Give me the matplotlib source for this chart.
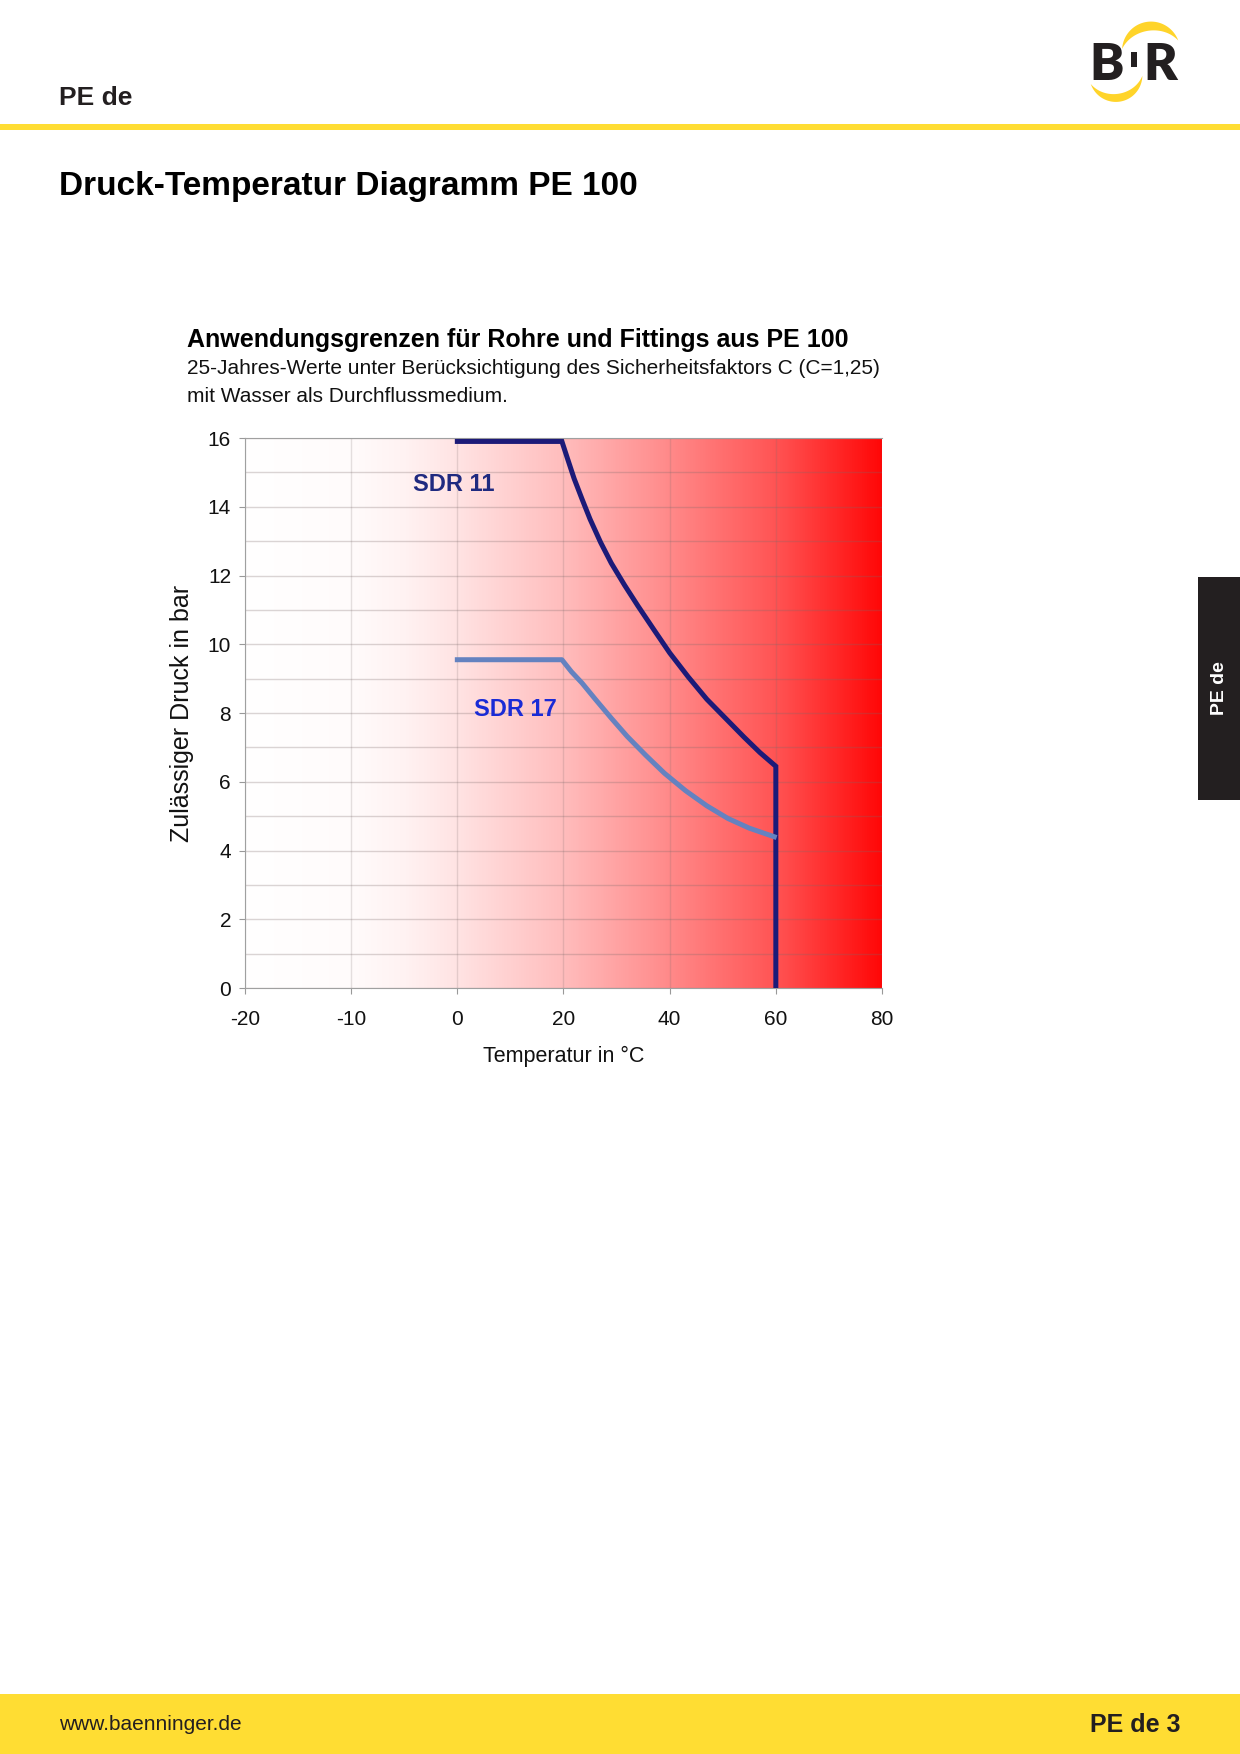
import numpy as np
import matplotlib
matplotlib.use("Agg")
import matplotlib.pyplot as plt
from matplotlib.colors import LinearSegmentedColormap
from matplotlib.patches import Rectangle, Polygon

plt.rcParams['font.family'] = ['Liberation Sans', 'DejaVu Sans']

# values
temp_ticks = [-20, -10, 0, 20, 40, 60, 80]
pressure_ticks = [0, 2, 4, 6, 8, 10, 12, 14, 16]

sdr11_temp = [0, 19.7, 20.8, 22, 23.5, 25, 27, 29, 31.5, 34, 37, 40, 43.5, 47, 50.5, 54, 57, 60, 60]
sdr11_bar = [15.9, 15.9, 15.38, 14.82, 14.22, 13.64, 12.96, 12.36, 11.72, 11.12, 10.43, 9.75, 9.05,
             8.4, 7.85, 7.3, 6.85, 6.45, 0]

sdr17_temp = [0, 19.7, 21.5, 23.5, 26, 29, 32, 35.5, 39, 43, 47, 51, 55, 59.7]
sdr17_bar = [9.55, 9.55, 9.2, 8.87, 8.4, 7.85, 7.32, 6.77, 6.25, 5.74, 5.3, 4.93, 4.65, 4.4]

W, H = 1240, 1754
YELLOW = '#FFDD33'
DARK = '#231f20'


def fx(px):
    return px / W


def fy(py):
    return 1 - py / H


# x axis: steps of 10 below zero, steps of 20 above
def fwd(t):
    t = np.asarray(t, dtype=float)
    return np.where(t < 0, t / 10, t / 20)


def inv(p):
    p = np.asarray(p, dtype=float)
    return np.where(p < 0, p * 10, p * 20)


def crescent(cx, cy, r, a0, a1, tmax, n=60):
    th = np.linspace(np.radians(a0), np.radians(a1), n)
    t = tmax * np.sin(np.pi * (th - th[0]) / (th[-1] - th[0]))
    outer = np.column_stack([cx + (r + t / 2) * np.cos(th), cy - (r + t / 2) * np.sin(th)])
    inner = np.column_stack([cx + (r - t / 2) * np.cos(th), cy - (r - t / 2) * np.sin(th)])
    return np.vstack([outer, inner[::-1]])


fig = plt.figure(figsize=(W / 100, H / 100), dpi=100)

# page layer in pixel coordinates
page = fig.add_axes([0, 0, 1, 1])
page.set_xlim(0, W)
page.set_ylim(H, 0)
page.axis('off')

page.add_patch(Rectangle((0, 124), W, 6, color=YELLOW, lw=0))
page.add_patch(Rectangle((0, 1694), W, 60, color=YELLOW, lw=0))
page.add_patch(Rectangle((1198, 577), 42, 223, color=DARK, lw=0))

# logo
page.add_patch(Polygon(crescent(1152, 57, 31, 32, 165, 9), closed=True, color='#FFD42A', lw=0))
page.add_patch(Polygon(crescent(1115, 70, 28, -150, -12, 8), closed=True, color='#FFD42A', lw=0))
page.text(1107, 65, 'B', fontsize=37, fontweight='heavy', family='Lato', color=DARK, ha='center', va='center')
page.text(1160, 65, 'R', fontsize=37, fontweight='heavy', family='Lato', color=DARK, ha='center', va='center')
page.add_patch(Rectangle((1131, 52), 6, 15, color=DARK, lw=0))

page.text(59, 98, 'PE de', fontsize=19, fontweight='bold', color=DARK, va='center')
page.text(59, 187, 'Druck-Temperatur Diagramm PE 100', fontsize=24, fontweight='bold', color='black', va='center')
page.text(1219, 688, 'PE de', fontsize=14, fontweight='bold', color='white', rotation=90, ha='center', va='center')
page.text(59, 1725, 'www.baenninger.de', fontsize=15, color=DARK, va='center')
page.text(1181, 1725, 'PE de 3', fontsize=18, fontweight='bold', color=DARK, ha='right', va='center')

page.text(187, 340, 'Anwendungsgrenzen für Rohre und Fittings aus PE 100', fontsize=18, fontweight='bold', color='black', va='center')
page.text(187, 368, '25-Jahres-Werte unter Berücksichtigung des Sicherheitsfaktors C (C=1,25)', fontsize=15, color='#111111', va='center')
page.text(187, 396, 'mit Wasser als Durchflussmedium.', fontsize=15, color='#111111', va='center')

# chart
ax = fig.add_axes([fx(245), fy(988), 637 / W, 550 / H])
ax.set_xscale('function', functions=(fwd, inv))

stops = [(0.0, 0.0), (1 / 6, 0.015), (0.25, 0.05), (2 / 6, 0.11), (0.5, 0.26),
         (4 / 6, 0.46), (5 / 6, 0.67), (1.0, 0.97)]
cmap = LinearSegmentedColormap.from_list('heat', [(f, (1, 1 - a, 1 - a)) for f, a in stops])
grad = np.linspace(0, 1, 512).reshape(1, -1)
ax.imshow(grad, extent=[0, 1, 0, 1], transform=ax.transAxes, aspect='auto',
          cmap=cmap, zorder=0, interpolation='bilinear')

ax.set_xlim(-20, 80)
ax.set_ylim(0, 16)
ax.set_xticks(temp_ticks)
ax.set_xticklabels([str(t) for t in temp_ticks])
ax.xaxis.set_minor_locator(matplotlib.ticker.NullLocator())
ax.set_yticks(pressure_ticks)
ax.set_yticks(range(1, 16, 2), minor=True)

ax.grid(True, which='both', axis='y', color='#7a6a6a', alpha=0.28, lw=1)
ax.grid(True, which='major', axis='x', color='#7a6a6a', alpha=0.2, lw=1)
ax.tick_params(axis='both', which='major', labelsize=15, length=4, color='#999999', labelcolor='#111111')
ax.tick_params(axis='x', which='major', pad=12)
ax.tick_params(axis='y', which='major', pad=6)
ax.tick_params(axis='y', which='minor', length=0)

for side in ['left', 'bottom', 'top']:
    ax.spines[side].set_color('#a0a0a0')
ax.spines['right'].set_visible(False)

ax.plot(sdr11_temp, sdr11_bar, color='#1c1a78', lw=3.6, solid_joinstyle='miter', zorder=3)
ax.plot(sdr17_temp, sdr17_bar, color='#6482c0', lw=3.6, zorder=3)

ax.text(-0.3, 14.66, 'SDR 11', fontsize=17, fontweight='bold', color='#1f2a80', ha='center', va='center')
ax.text(11, 8.09, 'SDR 17', fontsize=17, fontweight='bold', color='#1a2bd6', ha='center', va='center')

ax.set_xlabel('Temperatur in °C', fontsize=15.5, color='#111111')
ax.set_ylabel('Zulässiger Druck in bar', fontsize=18, color='#111111')
ax.xaxis.set_label_coords(0.5, -0.106)
ax.yaxis.set_label_coords(-0.08, 0.5)

fig.savefig('out.png', dpi=100)
